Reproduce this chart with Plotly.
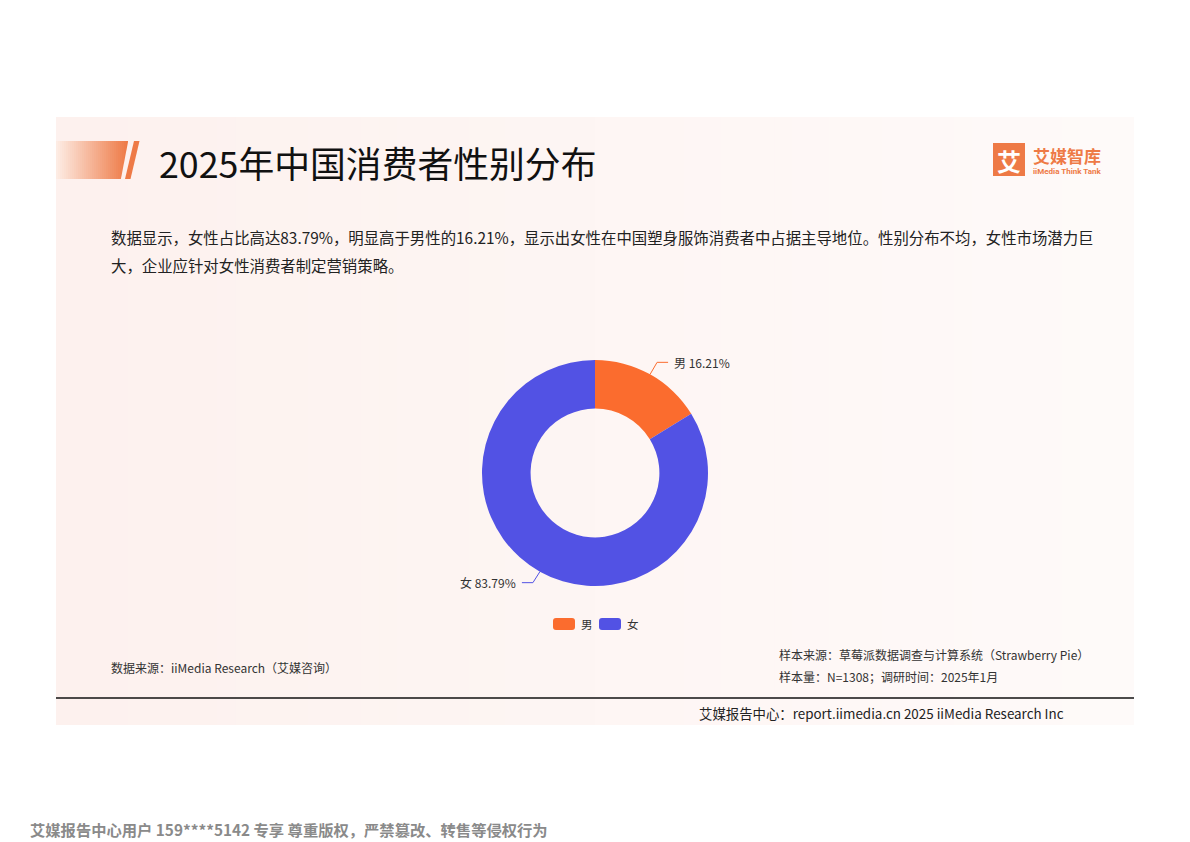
import math
import plotly.graph_objects as go

# ---- data ----
categories = ["男", "女"]
shares = [16.21, 83.79]
colors = ["#fb6c2e", "#5252e4"]

title_text = "2025年中国消费者性别分布"
desc_lines = [
    "数据显示，女性占比高达83.79%，明显高于男性的16.21%，显示出女性在中国塑身服饰消费者中占据主导地位。性别分布不均，女性市场潜力巨",
    "大，企业应针对女性消费者制定营销策略。",
]
source_left = "数据来源：iiMedia Research（艾媒咨询）"
source_right = ["样本来源：草莓派数据调查与计算系统（Strawberry Pie）", "样本量：N=1308；调研时间：2025年1月"]
footer_text = "艾媒报告中心：report.iimedia.cn 2025 iiMedia Research Inc"
watermark = "艾媒报告中心用户 159****5142 专享 尊重版权，严禁篡改、转售等侵权行为"

W, H = 1190, 842
FONT = "Noto Sans CJK SC"

# donut geometry (pixels)
cx, cy, R = 595, 473, 113
hole = 0.57

fig = go.Figure()

# invisible pixel axis for shapes / annotations
fig.add_trace(go.Scatter(x=[0, W], y=[0, H], mode="markers", marker=dict(opacity=0),
                         hoverinfo="skip", showlegend=False))

fig.add_trace(go.Pie(
    labels=categories, values=shares, hole=hole, sort=False, direction="clockwise",
    rotation=0, marker=dict(colors=colors, line=dict(width=0)), textinfo="none",
    showlegend=False, hoverinfo="label+percent",
    domain=dict(x=[(cx - R) / W, (cx + R) / W], y=[1 - (cy + R) / H, 1 - (cy - R) / H]),
))

shapes = []
annotations = []

# panel background with soft gradient
x0p, x1p, y0p, y1p = 56, 1134, 117, 725
n = 60
c0 = (253, 241, 238)
c1 = (254, 250, 249)
for i in range(n):
    t = i / (n - 1)
    c = tuple(round(c0[k] + (c1[k] - c0[k]) * t) for k in range(3))
    xa = x0p + (x1p - x0p) * i / n
    xb = x0p + (x1p - x0p) * (i + 1) / n + 1
    shapes.append(dict(type="rect", xref="x", yref="y", x0=xa, x1=min(xb, x1p), y0=y0p, y1=y1p,
                       fillcolor="rgb(%d,%d,%d)" % c, line=dict(width=0), layer="below"))

# title accent: gradient parallelogram + slash
g0 = (253, 236, 228)
g1 = (238, 122, 70)
m = 36
bx0, bx1 = 56, 128
for i in range(m):
    t = i / (m - 1)
    c = tuple(round(g0[k] + (g1[k] - g0[k]) * t) for k in range(3))
    xa = bx0 + (bx1 - bx0) * i / m
    xb = bx0 + (bx1 - bx0) * (i + 1) / m + 0.8
    shapes.append(dict(type="rect", xref="x", yref="y", x0=xa, x1=min(xb, bx1), y0=141, y1=179,
                       fillcolor="rgb(%d,%d,%d)" % c, line=dict(width=0)))
# cut the slanted right edge
shapes.append(dict(type="path", xref="x", yref="y", path="M 128.3,140.5 L 131,140.5 L 131,179.5 L 120.8,179.5 Z",
                   fillcolor="rgb(%d,%d,%d)" % c0, line=dict(width=0)))
shapes.append(dict(type="path", xref="x", yref="y", path="M 134,141 L 139.5,141 L 130.5,179 L 125,179 Z",
                   fillcolor="rgb(238,122,70)", line=dict(width=0)))

annotations.append(dict(x=157, y=162, xref="x", yref="y", text=title_text, showarrow=False,
                        xanchor="left", yanchor="middle", font=dict(family=FONT, size=35.8, color="#111111")))

# logo
shapes.append(dict(type="rect", xref="x", yref="y", x0=993, x1=1025, y0=143, y1=176,
                   fillcolor="#ee7a46", line=dict(width=0)))
annotations.append(dict(x=1009, y=160, xref="x", yref="y", text="<b>艾</b>", showarrow=False,
                        font=dict(family=FONT, size=24, color="white")))
annotations.append(dict(x=1031, y=155, xref="x", yref="y", text="<b>艾媒智库</b>", showarrow=False,
                        xanchor="left", yanchor="middle", font=dict(family=FONT, size=17, color="#ee7a46")))
annotations.append(dict(x=1031, y=171, xref="x", yref="y", text="<b>iiMedia Think Tank</b>", showarrow=False,
                        xanchor="left", yanchor="middle", font=dict(family="Roboto", size=8, color="#ee7a46")))

# description
for i, line in enumerate(desc_lines):
    annotations.append(dict(x=109, y=237 + 28 * i, xref="x", yref="y", text=line, showarrow=False,
                            xanchor="left", yanchor="middle", font=dict(family=FONT, size=15.4, color="#222222")))

# donut labels with leader lines (computed from data)
total = sum(shares)
cum = 0
for lab, val, col in zip(categories, shares, colors):
    mid = (cum + val / 2) / total * 2 * math.pi
    cum += val
    px = cx + R * math.sin(mid)
    py = cy - R * math.cos(mid)
    right = math.sin(mid) >= 0
    bx = px + (7 if right else -7)
    by = py + (-12 if math.cos(mid) > 0 else 11)
    ex = bx + (11 if right else -11)
    shapes.append(dict(type="path", xref="x", yref="y",
                       path="M %f,%f L %f,%f L %f,%f" % (px, py, bx, by, ex, by),
                       line=dict(color=col, width=1)))
    annotations.append(dict(x=ex + (4 if right else -4), y=by, xref="x", yref="y",
                            text="%s %.2f%%" % (lab, val), showarrow=False,
                            xanchor="left" if right else "right", yanchor="middle",
                            font=dict(family=FONT, size=12, color="#333333")))

# custom legend
lx = 553
for lab, col in zip(categories, colors):
    shapes.append(dict(type="path", xref="x", yref="y",
                       path="M %f,618 L %f,618 Q %f,618 %f,621 L %f,627 Q %f,630 %f,630 L %f,630 Q %f,630 %f,627 L %f,621 Q %f,618 %f,618 Z" % (
                           lx + 3, lx + 19, lx + 22, lx + 22, lx + 22, lx + 22, lx + 19, lx + 3, lx, lx, lx, lx, lx + 3),
                       fillcolor=col, line=dict(width=0)))
    annotations.append(dict(x=lx + 26, y=624, xref="x", yref="y", text=lab, showarrow=False,
                            xanchor="left", yanchor="middle", font=dict(family=FONT, size=11.5, color="#333333")))
    lx += 46

# footer texts
annotations.append(dict(x=109, y=667, xref="x", yref="y", text=source_left, showarrow=False,
                        xanchor="left", yanchor="middle", font=dict(family=FONT, size=12, color="#333333")))
for i, t in enumerate(source_right):
    annotations.append(dict(x=777, y=654 + 22 * i, xref="x", yref="y", text=t, showarrow=False,
                            xanchor="left", yanchor="middle", font=dict(family=FONT, size=12, color="#333333")))
shapes.append(dict(type="line", xref="x", yref="y", x0=56, x1=1134, y0=698, y1=698,
                   line=dict(color="#111111", width=1.5)))
annotations.append(dict(x=697, y=713, xref="x", yref="y", text=footer_text, showarrow=False,
                        xanchor="left", yanchor="middle", font=dict(family=FONT, size=13.4, color="#222222")))
annotations.append(dict(x=28, y=829, xref="x", yref="y", text="<b>" + watermark + "</b>", showarrow=False,
                        xanchor="left", yanchor="middle", font=dict(family=FONT, size=15.3, color="#8a8a8a")))

fig.update_layout(
    width=W, height=H, margin=dict(l=0, r=0, t=0, b=0),
    paper_bgcolor="white", plot_bgcolor="rgba(0,0,0,0)",
    xaxis=dict(range=[0, W], visible=False, fixedrange=True),
    yaxis=dict(range=[H, 0], visible=False, fixedrange=True),
    shapes=shapes, annotations=annotations, showlegend=False,
)

fig.write_html("out.html", config={"displayModeBar": False},
               post_script="document.body.style.margin='0';document.body.style.overflow='hidden';")
